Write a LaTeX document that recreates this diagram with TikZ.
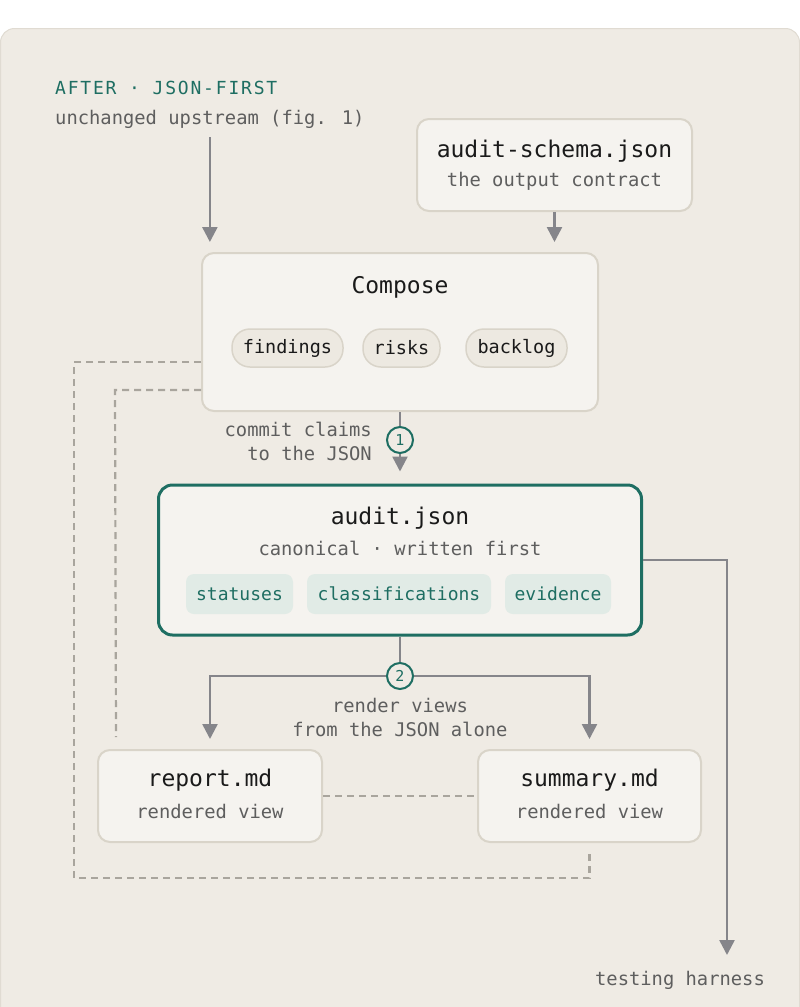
\documentclass[tikz,border=0pt]{standalone}
\usepackage{fontspec}
\setmainfont{DejaVu Sans Mono}
\newfontfamily\spacedfont[LetterSpace=10]{DejaVu Sans Mono}
\usetikzlibrary{arrows.meta,positioning}
\definecolor{panelbg}{HTML}{EFEBE4}
\definecolor{panelline}{HTML}{E0DBD2}
\definecolor{boxbg}{HTML}{F5F3EF}
\definecolor{boxline}{HTML}{D9D4C9}
\definecolor{pillbg}{HTML}{EDE9E1}
\definecolor{tagbg}{HTML}{E1EBE6}
\definecolor{teal}{HTML}{1E6E62}
\definecolor{inkgray}{HTML}{5E5E5E}
\definecolor{ink}{HTML}{1A1A1A}
\definecolor{arrowgray}{HTML}{85858A}
\definecolor{dashgray}{HTML}{A9A59D}

\begin{document}
\begin{tikzpicture}[x=1pt, y=-1pt,
    box/.style={draw=boxline, line width=2pt, fill=boxbg, rounded corners=12pt, inner sep=0pt},
    mainbox/.style={draw=teal, line width=3pt, fill=boxbg, rounded corners=14pt, inner sep=0pt},
    title/.style={text=ink, font=\fontsize{23}{28}\selectfont, inner sep=0pt},
    sub/.style={text=inkgray, font=\fontsize{18.8}{24}\selectfont, inner sep=0pt},
    pill/.style={draw=boxline, line width=1.5pt, fill=pillbg, rounded corners=18pt, minimum height=38pt, inner sep=0pt, text=ink, font=\fontsize{18.5}{22}\selectfont},
    tag/.style={fill=tagbg, rounded corners=8pt, minimum height=40pt, inner sep=0pt, text=teal, font=\fontsize{18}{22}\selectfont},
    badge/.style={circle, draw=teal, line width=2pt, fill=panelbg, minimum size=26pt, inner sep=0pt, text=teal, font=\fontsize{15}{18}\selectfont},
    arrow/.style={draw=arrowgray, line width=2.5pt, -{Triangle[width=15pt,length=15pt]}},
    dashline/.style={draw=dashgray, line width=2.2pt, dash pattern=on 7pt off 5pt}]

    \useasboundingbox (0,0) rectangle (800,1007);
    \fill[white] (0,0) rectangle (800,1007);
    \draw[panelline, fill=panelbg, line width=1pt, rounded corners=14pt] (0.5,28.5) rectangle (799.5,1030);

    \node[anchor=west, text=teal, font=\spacedfont\fontsize{18}{22}\selectfont, inner sep=0pt] (heading) at (55,88) {AFTER · JSON-FIRST};
    \node[anchor=west, sub, inner sep=0pt] (upstream) at (55,119) {unchanged upstream (fig. 1)};

    \node[box, minimum width=275pt, minimum height=92pt] (schema) at (554.5,165) {};
    \node[title] (schematitle) at (554.5,151) {audit-schema.json};
    \node[sub] (schemasub) at (554.5,181) {the output contract};

    \node[box, minimum width=396pt, minimum height=158pt] (compose) at (400,332) {};
    \node[title] (composetitle) at (400,287) {Compose};
    \node[pill, minimum width=111pt] (findings) at (287.5,348) {findings};
    \node[pill, minimum width=77pt] (risks) at (401.5,348) {risks};
    \node[pill, minimum width=101pt] (backlog) at (516.5,348) {backlog};

    \node[mainbox, minimum width=483pt, minimum height=150pt] (audit) at (400,560) {};
    \node[title] (audittitle) at (400,518) {audit.json};
    \node[sub] (auditsub) at (400,548) {canonical · written first};
    \node[tag, minimum width=107pt] (statuses) at (239.5,594) {statuses};
    \node[tag, minimum width=184pt] (classes) at (399,594) {classifications};
    \node[tag, minimum width=106pt] (evidence) at (558,594) {evidence};

    \node[box, minimum width=224pt, minimum height=92pt] (report) at (210,796) {};
    \node[title] (reporttitle) at (210,780) {report.md};
    \node[sub] (reportsub) at (210,811) {rendered view};

    \node[box, minimum width=223pt, minimum height=92pt] (summary) at (589.5,796) {};
    \node[title] (summarytitle) at (589.5,780) {summary.md};
    \node[sub] (summarysub) at (589.5,811) {rendered view};

    \node[sub, anchor=east, align=right] (commit) at (372,441) {commit claims\\to the JSON};
    \node[sub, align=center] (render) at (400,717) {render views\\from the JSON alone};
    \node[sub] (harness) at (680,980) {testing harness};
    \coordinate (harnessin) at (727,955);
    \coordinate (split) at (400,676);

    \draw[dashline] ([yshift=-30pt]compose.west) -- ++(-127,0) |- ([yshift=-35pt]summary.south) -- ([yshift=-10pt]summary.south);
    \draw[dashline] ([yshift=-58pt]compose.west) -- ++(-86,0) -- ([xshift=-94pt,yshift=12pt]report.north);
    \draw[dashline] (report.east) -- (summary.west);

    \draw[arrow, shorten >=10pt] ([yshift=-9pt]upstream.south) -- (upstream.south |- compose.north);
    \draw[arrow, shorten >=10pt] (schema.south) -- (schema.south |- compose.north);
    \draw[arrow, shorten >=12pt] (compose.south) -- (audit.north);
    \draw[arrow, shorten >=10pt] (audit.south) -- (split) -| (report.north);
    \draw[arrow, shorten >=10pt] (split) -| (summary.north);
    \draw[arrow] (audit.east) -| (harnessin);

    \node[badge] (one) at (400,440) {1};
    \node[badge] (two) at (split) {2};
\end{tikzpicture}
\end{document}
